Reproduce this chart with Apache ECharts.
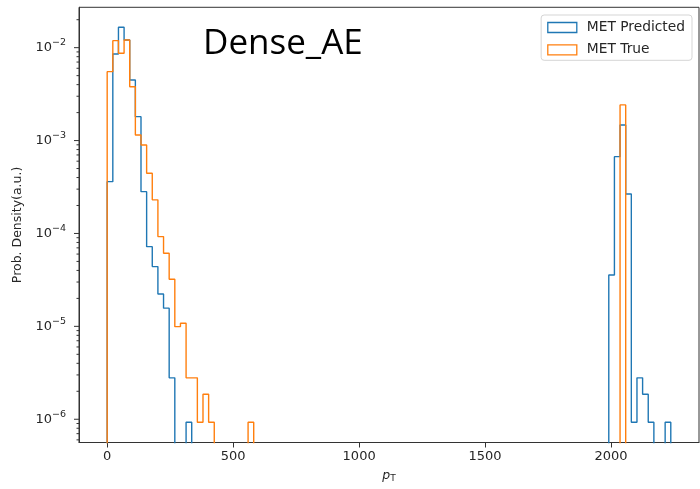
<!DOCTYPE html>
<html>
<head>
<meta charset="utf-8">
<script src="https://cdn.jsdelivr.net/npm/echarts@6/dist/echarts.min.js"></script>
<style>html,body{margin:0;padding:0;background:#fff}#c{width:700px;height:489px}</style>
</head>
<body>
<div id="c"></div>
<script>
// ---- data (histogram, 100 bins of equal width, density values) ----
const binWidth = 22.37;
const nBins = 100;
const predictedBins = [0,1,2,3,4,5,6,7,8,9,10,11,14,89,90,91,92,93,94,95,96,99];
const predictedDensity = [3.61e-4,8.55e-3,1.66e-2,1.21e-2,4.49e-3,1.81e-3,2.82e-4,7.21e-5,4.40e-5,2.23e-5,1.57e-5,2.79e-6,9.3e-7,
                          3.57e-5,6.71e-4,1.47e-3,2.66e-4,9.3e-7,2.79e-6,1.86e-6,9.3e-7,9.3e-7];
const trueBins = [0,1,2,3,4,5,6,7,8,9,10,11,12,13,14,15,16,17,18,25,91];
const trueDensity = [5.52e-3,1.19e-2,8.7e-3,1.21e-2,3.8e-3,1.15e-3,8.97e-4,4.45e-4,2.3e-4,9.25e-5,6.12e-5,3.21e-5,9.93e-6,1.08e-5,
                     2.79e-6,2.79e-6,9.3e-7,1.86e-6,9.3e-7,9.3e-7,2.42e-3];
const seriesNames = ['MET Predicted','MET True'];
const xTicks = [0,500,1000,1500,2000];
const yDecades = [-7,-6,-5,-4,-3,-2];
const yMinorMult = [2,3,4,5,6,7,8,9];
const xRange = [-111.85, 2349];
const yRange = [5.62e-7, 2.72e-2];

const BLUE = '#1f77b4', ORANGE = '#ff7f0e', INK = '#262626';

function stepPath(bins, vals){
  const h = new Array(nBins).fill(0);
  bins.forEach((b,i)=>{h[b]=vals[i];});
  const floor = 1e-12;
  const pts = [[0, floor]];
  for (let k=0;k<nBins;k++){
    const v = h[k] > 0 ? h[k] : floor;
    pts.push([k*binWidth, v], [(k+1)*binWidth, v]);
  }
  pts.push([nBins*binWidth, floor]);
  return pts;
}

// y ticks (major + minor) drawn through the y scale
const yTickData = [];
yDecades.forEach(e=>{
  const major = Math.pow(10,e);
  if (major >= yRange[0] && major <= yRange[1]) yTickData.push([xRange[0], major, 5]);
  yMinorMult.forEach(m=>{
    const v = m*Math.pow(10,e);
    if (v >= yRange[0] && v <= yRange[1]) yTickData.push([xRange[0], v, 2.5]);
  });
});

const chart = echarts.init(document.getElementById('c'), null, {renderer:'canvas'});
chart.setOption({
  animation:false,
  backgroundColor:'#fff',
  grid:{left:79, right:1, top:7.3, bottom:46.5, show:true, borderColor:'#333', borderWidth:1, backgroundColor:'transparent', outerBoundsMode:'none', containLabel:false},
  xAxis:{
    type:'value', min:xRange[0], max:xRange[1],
    axisLine:{show:true, onZero:false, lineStyle:{color:'#333', width:1}},
    axisTick:{show:true, length:5, customValues:xTicks, lineStyle:{color:'#333', width:1}},
    axisLabel:{customValues:xTicks, margin:8, fontSize:13, fontFamily:'DejaVu Sans', color:INK,
               formatter:function(v){ return String(v); }},
    splitLine:{show:false},
    name:'{i|p}{s|T}', nameLocation:'middle', nameGap:25,
    nameTextStyle:{rich:{i:{fontSize:12.5, fontStyle:'italic', fontFamily:'DejaVu Sans', color:INK},
                         s:{fontSize:9, fontFamily:'DejaVu Sans', color:INK, padding:[7,0,0,0]}}}
  },
  yAxis:{
    type:'log', logBase:10, min:yRange[0], max:yRange[1],
    axisLine:{show:true, onZero:false, lineStyle:{color:'#333', width:1}},
    axisTick:{show:false},
    axisLabel:{margin:13, showMinLabel:false, showMaxLabel:false,
      formatter:function(v){
        const e = Math.log10(v);
        if (Math.abs(e-Math.round(e))>1e-6) return '';
        return '{b|10}{s|\u2212'+(-Math.round(e))+'}';
      },
      rich:{b:{fontSize:13, fontFamily:'DejaVu Sans', color:INK},
            s:{fontSize:9.5, fontFamily:'DejaVu Sans', color:INK, padding:[0,0,10,0]}}},
    splitLine:{show:false},
    name:'Prob. Density(a.u.)', nameLocation:'middle', nameGap:55,
    nameTextStyle:{fontSize:12.5, fontFamily:'DejaVu Sans', color:INK}
  },
  legend:{
    data:[
      {name:seriesNames[0], itemStyle:{color:'rgba(255,255,255,0)', borderColor:BLUE, borderWidth:1.3}},
      {name:seriesNames[1], itemStyle:{color:'rgba(255,255,255,0)', borderColor:ORANGE, borderWidth:1.3}}
    ],
    icon:'rect', orient:'vertical', right:8, top:15,
    itemWidth:29, itemHeight:10, itemGap:7.3,
    padding:[5,7,3,6], borderColor:'#d5d5d5', borderWidth:1, borderRadius:3, backgroundColor:'rgba(255,255,255,0.8)',
    textStyle:{fontSize:13.8, fontFamily:'DejaVu Sans', color:INK, lineHeight:15, padding:[0,0,0,5]}
  },
  graphic:[{type:'text', x:203, y:44, style:{text:'Dense_AE', fontSize:35, fontFamily:'Open Sans', fill:'#000', align:'left', verticalAlign:'middle'}}],
  series:[
    {name:seriesNames[0], type:'line', data:stepPath(predictedBins, predictedDensity), showSymbol:false, symbol:'none',
     lineStyle:{color:BLUE, width:1.4}, itemStyle:{color:BLUE}, clip:true, z:2},
    {name:seriesNames[1], type:'line', data:stepPath(trueBins, trueDensity), showSymbol:false, symbol:'none',
     lineStyle:{color:ORANGE, width:1.4}, itemStyle:{color:ORANGE}, clip:true, z:3},
    {type:'custom', silent:true, clip:false, data:yTickData, encode:{x:0,y:1},
     renderItem:function(params, api){
       const p = api.coord([api.value(0), api.value(1)]);
       const len = api.value(2);
       return {type:'line', shape:{x1:p[0]-len, y1:p[1], x2:p[0], y2:p[1]}, style:{stroke:'#333', lineWidth:1}};
     }, z:5}
  ]
});
</script>
</body>
</html>
